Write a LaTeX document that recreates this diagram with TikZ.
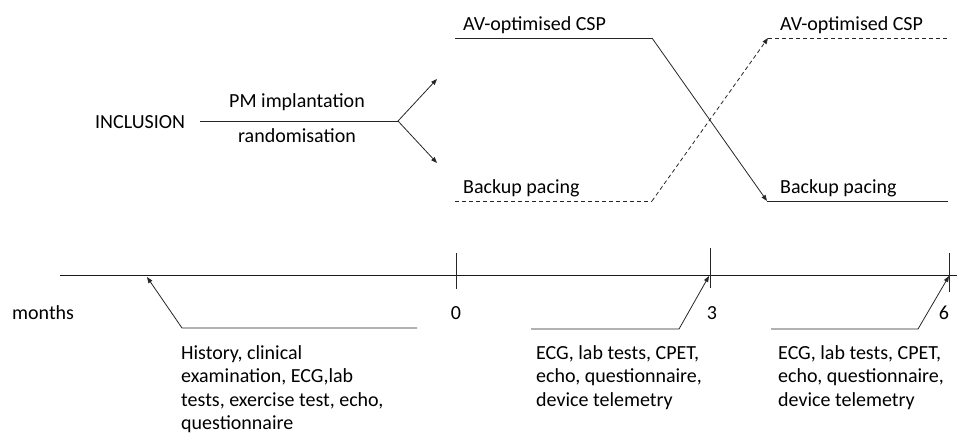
\documentclass[tikz,border=0pt]{standalone}
\usepackage{fontspec}
\setmainfont{Carlito}
\usetikzlibrary{arrows.meta}
\begin{document}
\begin{tikzpicture}[x=1pt,y=-1pt,
  lbl/.style={inner sep=0pt, font=\fontsize{20}{23.3}\selectfont},
  ln/.style={line width=0.8pt, draw=black!85},
  dsh/.style={ln, dash pattern=on 4pt off 3pt},
  arr/.style={-{Triangle[length=6pt,width=4.5pt]}}]
\useasboundingbox (0,0) rectangle (957,432);
% top part
\node[lbl, anchor=base west] (inc) at (95,128) {INCLUSION};
\node[lbl, anchor=base] (pm) at (297,107) {PM implantation};
\node[lbl, anchor=base] (rnd) at (297,142) {randomisation};
\coordinate (s0) at (200,121);
\coordinate (split) at (398,121);
\coordinate (up) at (437,79);
\coordinate (dn) at (437,163);
\draw[ln] (s0) -- (split);
\draw[ln, arr] (split) -- (up);
\draw[ln, arr] (split) -- (dn);

\node[lbl, anchor=base west] (av1) at (463,30) {AV-optimised CSP};
\node[lbl, anchor=base west] (bp1) at (463,193) {Backup pacing};
\node[lbl, anchor=base west] (av2) at (780,30) {AV-optimised CSP};
\node[lbl, anchor=base west] (bp2) at (780,193) {Backup pacing};
\coordinate (a1) at (455,38);
\coordinate (a2) at (652,38);
\coordinate (b1) at (455,201);
\coordinate (b2) at (652,201);
\coordinate (a3) at (768,38);
\coordinate (a4) at (948,38);
\coordinate (b3) at (767,201);
\coordinate (b4) at (948,201);
\draw[ln] (a1) -- (a2);
\draw[ln, arr] (a2) -- (b3);
\draw[ln] (b3) -- (b4);
\draw[dsh] (b1) -- (b2);
\draw[dsh, arr] (b2) -- (a3);
\draw[dsh] (a3) -- (a4);

% timeline
\coordinate (t0) at (60,275);
\coordinate (t1) at (957,275);
\draw[line width=1pt, draw=black!90] (t0) -- (t1);
\coordinate (k0a) at (456,253); \coordinate (k0b) at (456,289);
\coordinate (k3a) at (710,248); \coordinate (k3b) at (710,288);
\coordinate (k6a) at (949,253); \coordinate (k6b) at (949,292);
\draw[ln] (k0a) -- (k0b);
\draw[ln] (k3a) -- (k3b);
\draw[ln] (k6a) -- (k6b);
\node[lbl, anchor=base west] (mo) at (12,319) {months};
\node[lbl, anchor=base] (m0) at (456,319) {0};
\node[lbl, anchor=base] (m3) at (712,319) {3};
\node[lbl, anchor=base] (m6) at (944,319) {6};

% callouts
\coordinate (c1a) at (417,328); \coordinate (c1b) at (182,328); \coordinate (c1c) at (147,277);
\coordinate (c2a) at (531,329); \coordinate (c2b) at (679,329); \coordinate (c2c) at (709,276);
\coordinate (c3a) at (771,329); \coordinate (c3b) at (918,329); \coordinate (c3c) at (949,276);
\draw[ln, arr] (c1a) -- (c1b) -- (c1c);
\draw[ln, arr] (c2a) -- (c2b) -- (c2c);
\draw[ln, arr] (c3a) -- (c3b) -- (c3c);

\node[lbl, anchor=north west, align=left] (h1) at (181,345.5) {History, clinical\\examination, ECG,lab\\tests, exercise test, echo,\\questionnaire};
\node[lbl, anchor=north west, align=left] (h2) at (536,345.5) {ECG, lab tests, CPET,\\echo, questionnaire,\\device telemetry};
\node[lbl, anchor=north west, align=left] (h3) at (778,345.5) {ECG, lab tests, CPET,\\echo, questionnaire,\\device telemetry};
\end{tikzpicture}
\end{document}
